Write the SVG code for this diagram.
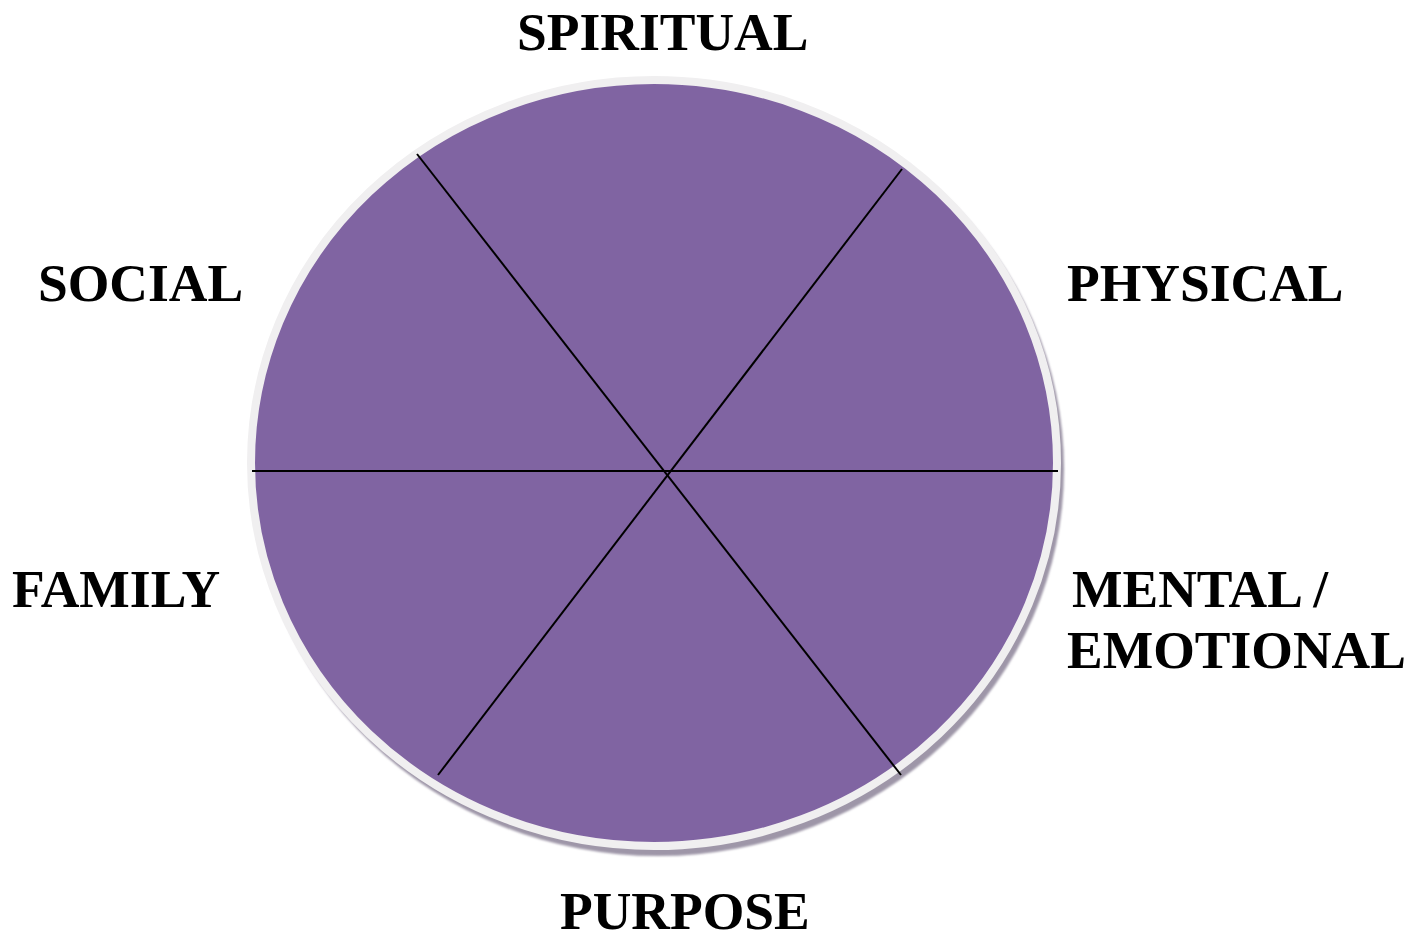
<svg xmlns="http://www.w3.org/2000/svg" width="1422" height="941" viewBox="0 0 1422 941">
<style>
.lbl{font-family:"Liberation Serif","Times New Roman",serif;font-weight:bold;font-size:53.5px;fill:#000}
.div{stroke:#000;stroke-width:2;fill:none}
</style>
<defs>
<filter id="blur" x="-5%" y="-5%" width="110%" height="110%"><feGaussianBlur stdDeviation="1.2"/></filter>
</defs>
<rect width="1422" height="941" fill="#fff"/>
<g id="wheel">
<ellipse cx="658" cy="469" rx="406" ry="387" fill="#9E96A8" filter="url(#blur)"/>
<ellipse cx="654" cy="463" rx="403" ry="383" fill="#8064A2" stroke="#F0EFF0" stroke-width="8"/>
</g>
<g id="connectors">
<line class="div" x1="252" y1="471" x2="1058" y2="471"/>
<line class="div" x1="417" y1="154" x2="901" y2="775"/>
<line class="div" x1="902" y1="169" x2="438" y2="775"/>
</g>
<g id="spiritual"><text class="lbl" x="517" y="50">SPIRITUAL</text></g>
<g id="social"><text class="lbl" x="38" y="301">SOCIAL</text></g>
<g id="physical"><text class="lbl" x="1067" y="301">PHYSICAL</text></g>
<g id="family"><text class="lbl" x="12" y="607">FAMILY</text></g>
<g id="mental"><text class="lbl" x="1072" y="607">MENTAL /</text><text class="lbl" x="1067" y="668">EMOTIONAL</text></g>
<g id="purpose"><text class="lbl" x="560" y="929">PURPOSE</text></g>
</svg>
